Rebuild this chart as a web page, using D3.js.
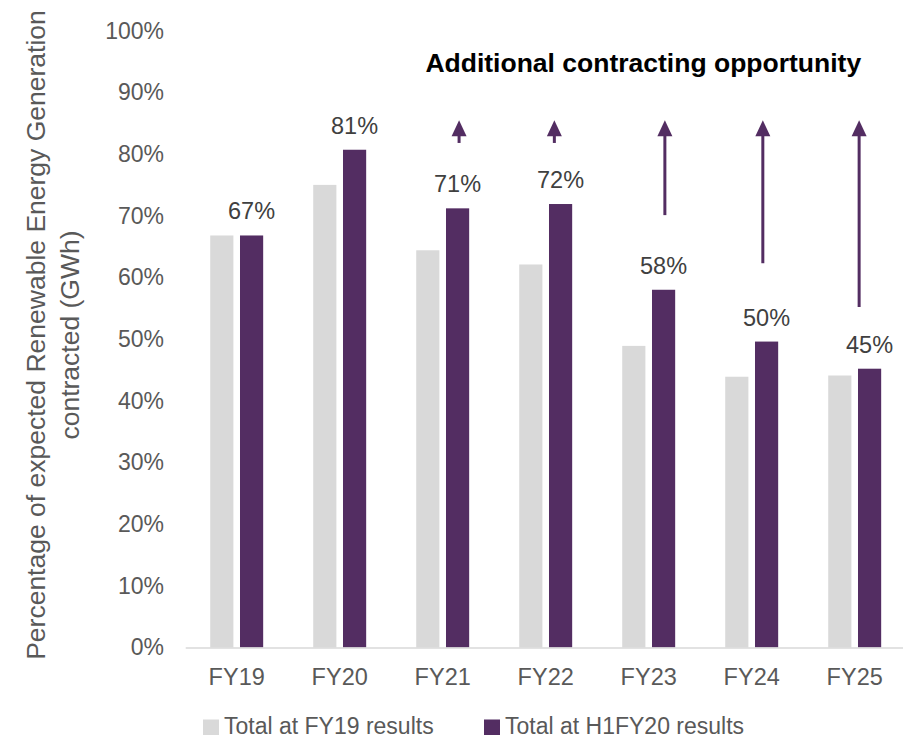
<!DOCTYPE html>
<html>
<head>
<meta charset="utf-8">
<script src="https://cdn.jsdelivr.net/npm/d3@7/dist/d3.min.js"></script>
<style>
  html, body { margin: 0; padding: 0; background: #fff; }
  svg { display: block; font-family: "Liberation Sans", Arial, sans-serif; }
</style>
</head>
<body>
<svg id="chart" width="903" height="739"></svg>
<script>
// ---- data ----
const categories = ["FY19", "FY20", "FY21", "FY22", "FY23", "FY24", "FY25"];
const seriesNames = ["Total at FY19 results", "Total at H1FY20 results"];
const fy19Results = [66.8, 75.0, 64.4, 62.1, 48.9, 43.9, 44.1];
const h1fy20Results = [66.8, 80.7, 71.2, 71.9, 58.0, 49.6, 45.2];
const barLabels = ["67%", "81%", "71%", "72%", "58%", "50%", "45%"];
const yTicks = [0, 10, 20, 30, 40, 50, 60, 70, 80, 90, 100];
// annotation arrows: category-index position, start value, tip value
const arrowCats = ["FY21", "FY22", "FY23", "FY24", "FY25"];
const arrowPos = [2.159, 3.084, 4.157, 5.108, 6.043];
const arrowFrom = [81.8, 81.8, 70.1, 62.3, 55.2];
const arrowTo = [85.5, 85.5, 85.5, 85.5, 85.5];
const annotationText = "Additional contracting opportunity";
const yTitleLines = ["Percentage of expected Renewable Energy Generation", "contracted (GWh)"];

// ---- styles ----
const colors = ["#D9D9D9", "#532D62"];
const tickColor = "#595959";

const svg = d3.select("#chart");

const x = d3.scaleBand().domain(categories).range([185.2, 906.2]).padding(0);
const y = d3.scaleLinear().domain([0, 100]).range([647.5, 30.7]);
const step = x.step();
const bw = step * 0.225;
const gap = step * 0.064;
const xIdx = d3.scaleLinear().domain([0, categories.length - 1])
  .range([x(categories[0]) + step / 2, x(categories[categories.length - 1]) + step / 2]);

// y axis
const yAxis = svg.append("g").attr("transform", "translate(185,0)")
  .call(d3.axisLeft(y).tickValues(yTicks).tickFormat(d => d + "%").tickSize(0).tickPadding(21));
yAxis.select(".domain").remove();
yAxis.selectAll("text").attr("fill", tickColor).style("font-size", "23px")
  .style("font-family", "'Liberation Sans', Arial, sans-serif");

// bars
const series = [fy19Results, h1fy20Results];
series.forEach((vals, si) => {
  svg.append("g").selectAll("rect").data(vals).join("rect")
    .attr("x", (d, i) => {
      const c = x(categories[i]) + step / 2;
      return si === 0 ? c - gap / 2 - bw : c + gap / 2;
    })
    .attr("y", d => y(d))
    .attr("width", bw)
    .attr("height", d => y(0) - y(d))
    .attr("fill", colors[si]);
});

// bar labels
svg.append("g").selectAll("text").data(h1fy20Results).join("text")
  .attr("x", (d, i) => x(categories[i]) + step / 2 + gap / 2 + bw / 2)
  .attr("y", d => y(d) - 16)
  .attr("text-anchor", "middle")
  .attr("fill", "#404040")
  .style("font-size", "23.5px")
  .text((d, i) => barLabels[i]);

// x axis
const xAxis = svg.append("g").attr("transform", `translate(0,${y(0)})`)
  .call(d3.axisBottom(x).tickSize(0).tickPadding(20.5));
xAxis.select(".domain").attr("stroke", "#D9D9D9").attr("stroke-width", 1.5);
xAxis.selectAll("text").attr("fill", tickColor).style("font-size", "23.5px")
  .style("font-family", "'Liberation Sans', Arial, sans-serif");

// arrows
const arrows = svg.append("g");
arrowCats.forEach((c, i) => {
  const ax = xIdx(arrowPos[i]);
  const tip = y(arrowTo[i]);
  const headBase = tip + 16;
  arrows.append("line")
    .attr("x1", ax).attr("x2", ax)
    .attr("y1", y(arrowFrom[i])).attr("y2", headBase - 1)
    .attr("stroke", colors[1]).attr("stroke-width", 3);
  arrows.append("path")
    .attr("d", `M${ax},${tip} L${ax + 7.5},${headBase} L${ax - 7.5},${headBase} Z`)
    .attr("fill", colors[1]);
});

// annotation title
svg.append("text")
  .attr("x", 643.3).attr("y", 71.5)
  .attr("text-anchor", "middle")
  .attr("fill", "#000")
  .style("font-size", "26.5px").style("font-weight", "bold")
  .text(annotationText);

// y title
const yt = svg.append("g").attr("transform", "translate(0,335) rotate(-90)");
yTitleLines.forEach((t, i) => {
  yt.append("text")
    .attr("x", 0).attr("y", 45 + i * 33.5)
    .attr("text-anchor", "middle")
    .attr("fill", tickColor)
    .style("font-size", "26.5px")
    .text(t);
});

// legend
const legendX = [203, 484];
const leg = svg.append("g");
seriesNames.forEach((n, i) => {
  leg.append("rect").attr("x", legendX[i]).attr("y", 719.5).attr("width", 16).attr("height", 15.5)
    .attr("fill", colors[i]);
  leg.append("text").attr("x", legendX[i] + 21).attr("y", 734)
    .attr("fill", tickColor).style("font-size", "23px").text(n);
});
</script>
</body>
</html>
